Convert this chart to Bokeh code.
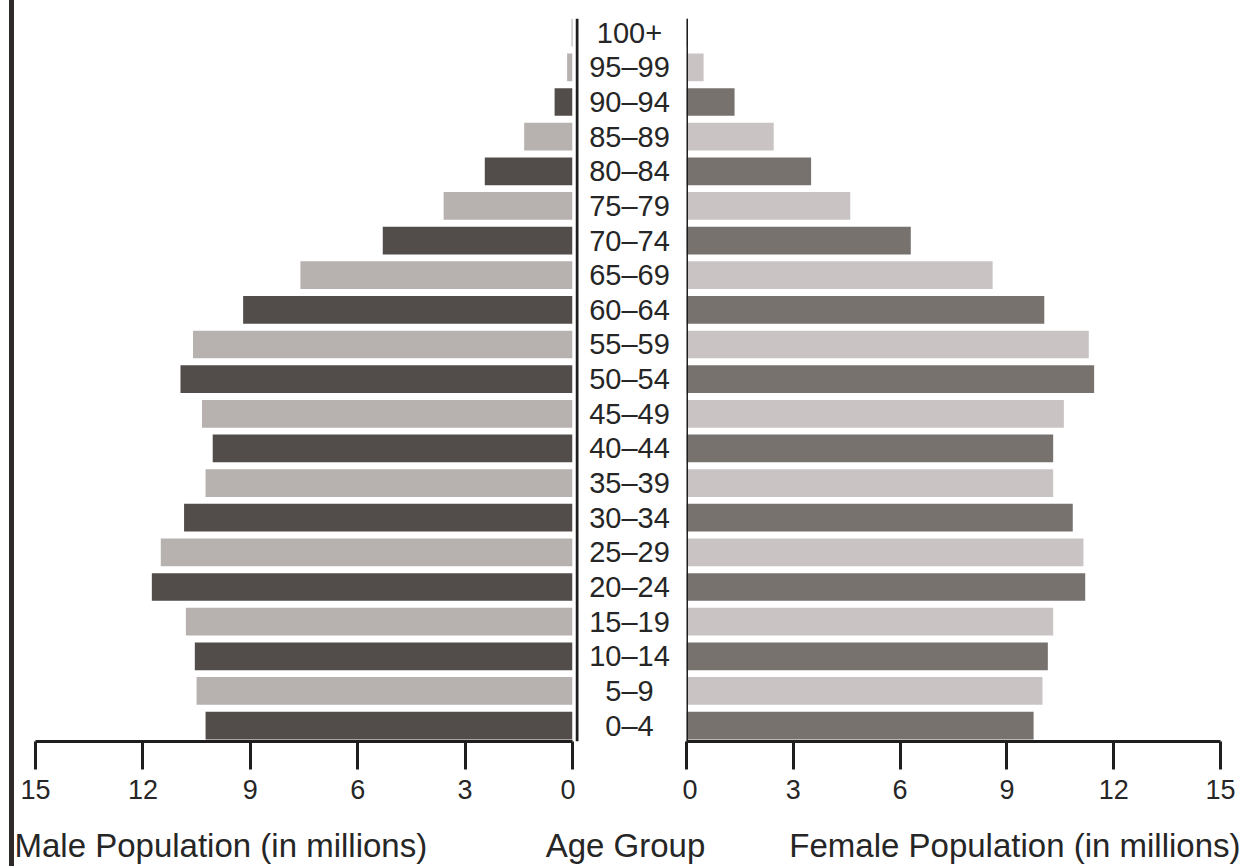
from bokeh.plotting import figure
from bokeh.models import ColumnDataSource, Range1d, FixedTicker, Span, Div
from bokeh.layouts import row, column
from bokeh.embed import file_html
from bokeh.resources import INLINE
from bokeh.core.properties import value

# ---------------- data ----------------
age_groups = ["0–4", "5–9", "10–14", "15–19", "20–24", "25–29", "30–34",
              "35–39", "40–44", "45–49", "50–54", "55–59", "60–64", "65–69",
              "70–74", "75–79", "80–84", "85–89", "90–94", "95–99", "100+"]
male = [10.25, 10.5, 10.55, 10.8, 11.75, 11.5, 10.85, 10.25, 10.05, 10.35,
        10.95, 10.6, 9.2, 7.6, 5.3, 3.6, 2.45, 1.35, 0.5, 0.15, 0.02]
female = [9.75, 10.0, 10.15, 10.3, 11.2, 11.15, 10.85, 10.3, 10.3, 10.6,
          11.45, 11.3, 10.05, 8.6, 6.3, 4.6, 3.5, 2.45, 1.35, 0.48, 0.03]
ticks = [0, 3, 6, 9, 12, 15]
male_title = "Male Population (in millions)"
center_title = "Age Group"
female_title = "Female Population (in millions)"

# ---------------- style ----------------
FONT = "Liberation Sans"
TXT = "#262626"
LINE = "#1e1e1e"
n = len(age_groups)
idx = list(range(n))
male_colors = ["#524c4a" if i % 2 == 0 else "#b7b1b0" for i in idx]
female_colors = ["#78726f" if i % 2 == 0 else "#c9c4c3" for i in idx]

src = ColumnDataSource(dict(y=idx, age=age_groups, male=male, female=female,
                            mc=male_colors, fc=female_colors))

yr = Range1d(-0.46, n - 1 + 0.41)
TOP, BOT, H = 18, 69, 810


def base(p):
    p.grid.visible = False
    p.outline_line_color = None
    p.background_fill_color = "white"
    p.border_fill_color = "white"


def style_axis(p):
    ax = p.xaxis[0]
    ax.ticker = FixedTicker(ticks=ticks)
    ax.axis_line_width = 3
    ax.axis_line_color = LINE
    ax.major_tick_line_width = 3
    ax.major_tick_line_color = LINE
    ax.major_tick_in = 0
    ax.major_tick_out = 28
    ax.minor_tick_line_color = None
    ax.major_label_text_font = FONT
    ax.major_label_text_font_size = "27px"
    ax.major_label_text_color = TXT
    ax.major_label_standoff = 10


left = figure(width=561, height=H, x_range=Range1d(15, 0), y_range=yr, title=None,
              output_backend="svg", toolbar_location=None, y_axis_location=None,
              min_border_left=21, min_border_right=3, min_border_top=TOP,
              min_border_bottom=BOT)
base(left)
left.hbar(y="y", left=0, right="male", height=0.8, fill_color="mc",
          line_color=None, source=src)
style_axis(left)

mid = figure(width=107, height=H, x_range=Range1d(0, 107), y_range=yr, title=None,
             output_backend="svg", toolbar_location=None, x_axis_location=None,
             y_axis_location=None, min_border_left=0, min_border_right=0,
             min_border_top=TOP, min_border_bottom=BOT)
base(mid)
mid.text(x=54, y="y", text="age", source=src, text_align="center",
         text_baseline="middle", text_font=value(FONT), text_font_size="29px",
         text_color=TXT)
mid.add_layout(Span(location=1.5, dimension="height", line_width=3, line_color=LINE))

right = figure(width=564, height=H, x_range=Range1d(0, 15), y_range=yr, title=None,
               output_backend="svg", toolbar_location=None, y_axis_location=None,
               min_border_left=4, min_border_right=26, min_border_top=TOP,
               min_border_bottom=BOT)
base(right)
right.hbar(y="y", left=0, right="female", height=0.8, fill_color="fc",
           line_color=None, source=src)
right.add_layout(Span(location=0, dimension="height", line_width=3, line_color=LINE))
style_axis(right)

# axis titles row (page pixel coordinates: x from 14 to 1246, y from 810 to 866)
bottom = figure(width=1232, height=56, x_range=Range1d(14, 1246),
                y_range=Range1d(866, 810), title=None, output_backend="svg",
                toolbar_location=None, x_axis_location=None, y_axis_location=None,
                min_border_left=0, min_border_right=0, min_border_top=0,
                min_border_bottom=0)
base(bottom)
tsrc = ColumnDataSource(dict(x=[14, 625, 1240], y=[845, 845, 845],
                             t=[male_title, center_title, female_title],
                             a=["left", "center", "right"]))
bottom.text(x="x", y="y", text="t", text_align="a", text_baseline="alphabetic",
            text_font=value(FONT), text_font_size="33px", text_color=TXT,
            source=tsrc)

border = Div(text="", width=14, height=866, margin=0,
             styles={"background-image":
                     "linear-gradient(to right, #ffffff 0px, #ffffff 9px, #2e2a2a 9px, #2e2a2a 14px)"})

layout = row(border, column(row(left, mid, right), bottom))

with open("out.html", "w") as f:
    f.write(file_html(layout, INLINE, "Population pyramid"))
